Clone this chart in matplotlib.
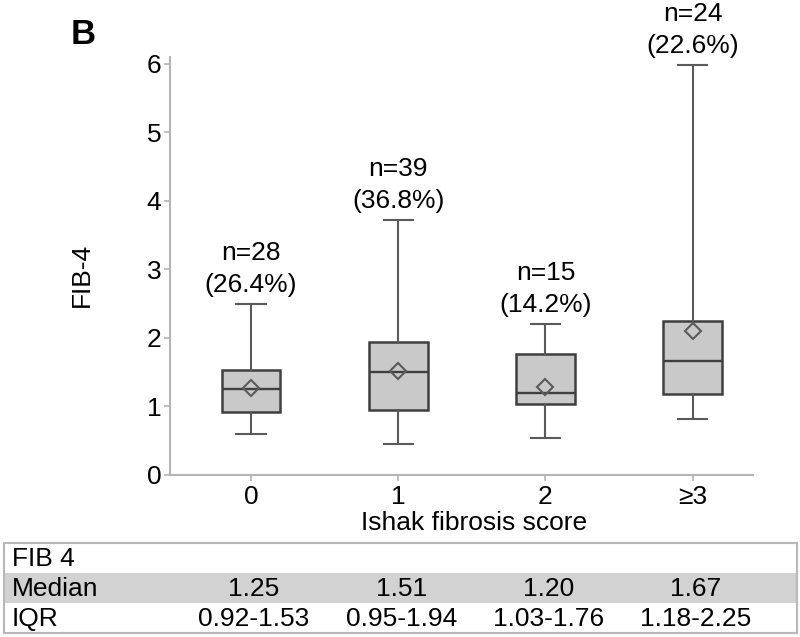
import matplotlib
matplotlib.use("Agg")
import matplotlib.pyplot as plt
from matplotlib.patches import Rectangle
from matplotlib.transforms import blended_transform_factory

plt.rcParams['font.family'] = ['Liberation Sans', 'DejaVu Sans']

# --- data ---
groups = ['0', '1', '2', '≥3']
n_counts = [28, 39, 15, 24]
medians = [1.25, 1.51, 1.20, 1.67]
q1 = [0.92, 0.95, 1.03, 1.18]
q3 = [1.53, 1.94, 1.76, 2.25]
whisker_low = [0.60, 0.45, 0.54, 0.81]
whisker_high = [2.49, 3.72, 2.20, 5.99]
means = [1.27, 1.52, 1.29, 2.10]

table_title = 'FIB 4'
median_labels = ['1.25', '1.51', '1.20', '1.67']
iqr_labels = ['0.92-1.53', '0.95-1.94', '1.03-1.76', '1.18-2.25']

total = sum(n_counts)
W, H = 800, 637
FS = 19

fig = plt.figure(figsize=(8, 6.37), dpi=100)
ax = fig.add_axes([169.5 / W, 1 - 475 / H, (753 - 169.5) / W, (475 - 57) / H])

stats = []
for i in range(len(groups)):
    stats.append(dict(med=medians[i], q1=q1[i], q3=q3[i],
                      whislo=whisker_low[i], whishi=whisker_high[i],
                      mean=means[i], fliers=[]))

edge = '#3f3f3f'
wcol = '#5a5a5a'
ax.bxp(stats, positions=range(len(groups)), widths=0.40, patch_artist=True,
       showmeans=True, showfliers=False,
       boxprops=dict(facecolor='#c9c9c9', edgecolor=edge, linewidth=1.8),
       medianprops=dict(color=edge, linewidth=1.7),
       whiskerprops=dict(color=wcol, linewidth=1.5),
       capprops=dict(color=wcol, linewidth=1.5),
       capwidths=0.2,
       meanprops=dict(marker='D', markersize=8, markerfacecolor='none',
                      markeredgecolor=wcol, markeredgewidth=1.5))

# n / percentage labels above each upper whisker
for i, n in enumerate(n_counts):
    pct = 100.0 * n / total
    ax.annotate(f'({pct:.1f}%)', (i, whisker_high[i]), xytext=(0, 19),
                textcoords='offset pixels', ha='center', va='center',
                fontsize=FS, annotation_clip=False)
    ax.annotate(f'n={n}', (i, whisker_high[i]), xytext=(0, 51),
                textcoords='offset pixels', ha='center', va='center',
                fontsize=FS, annotation_clip=False)

ax.set_xlim(-0.554, 3.41)
ax.set_ylim(0, 6.1)
ax.set_xticks(range(len(groups)))
ax.set_xticklabels(groups)
ax.set_yticks(range(0, 7))

for s in ['top', 'right']:
    ax.spines[s].set_visible(False)
for s in ['left', 'bottom']:
    ax.spines[s].set_color('#b4b4b4')
    ax.spines[s].set_linewidth(1.5)
ax.tick_params(axis='both', colors='#b4b4b4', labelcolor='black',
               labelsize=FS, length=4, width=1.2)
ax.tick_params(axis='x', pad=3)
ax.tick_params(axis='y', pad=2)

fig.text(82 / W, 1 - 275 / H, 'FIB-4', rotation=90, ha='center', va='center',
         fontsize=FS)
fig.text(474 / W, 1 - 523 / H, 'Ishak fibrosis score', ha='center',
         va='center', fontsize=FS)
fig.text(83 / W, 1 - 34 / H, 'B', ha='center', va='center', fontsize=25,
         fontweight='bold')

# --- summary table below the chart ---
tleft, tright = 4 / W, 797 / W
row_edges = [543.3, 573.3, 602.7, 632.7]
fig.add_artist(Rectangle((tleft, 1 - row_edges[2] / H), tright - tleft,
                         (row_edges[2] - row_edges[1]) / H,
                         transform=fig.transFigure, facecolor='#d2d2d2',
                         edgecolor='none'))
fig.add_artist(Rectangle((tleft, 1 - row_edges[3] / H), tright - tleft,
                         (row_edges[3] - row_edges[0]) / H,
                         transform=fig.transFigure, facecolor='none',
                         edgecolor='#b8b8b8', linewidth=1.5))

row_centers = [(row_edges[k] + row_edges[k + 1]) / 2 + 1 for k in range(3)]
fig.text(12 / W, 1 - row_centers[0] / H, table_title, ha='left', va='center',
         fontsize=FS)
fig.text(12 / W, 1 - row_centers[1] / H, 'Median', ha='left', va='center',
         fontsize=FS)
fig.text(12 / W, 1 - row_centers[2] / H, 'IQR', ha='left', va='center',
         fontsize=FS)

trans = blended_transform_factory(ax.transData, fig.transFigure)
for i in range(len(groups)):
    fig.text(i + 0.02, 1 - row_centers[1] / H, median_labels[i], transform=trans,
             ha='center', va='center', fontsize=FS)
    fig.text(i + 0.02, 1 - row_centers[2] / H, iqr_labels[i], transform=trans,
             ha='center', va='center', fontsize=FS)

fig.savefig('out.png', dpi=100)
